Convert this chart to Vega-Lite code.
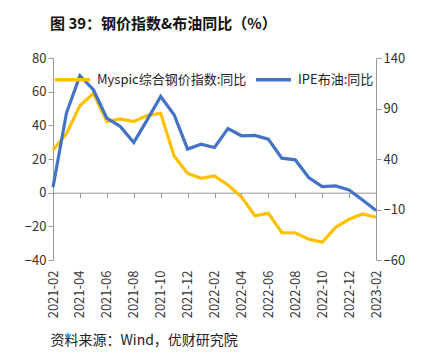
{
  "$schema": "https://vega.github.io/schema/vega-lite/v6.json",
  "width": 323,
  "height": 202,
  "autosize": {"type": "none"},
  "padding": {"left": 53, "top": 58, "right": 54, "bottom": 99},
  "background": "white",
  "config": {"view": {"stroke": null}, "font": "Noto Sans CJK SC"},
  "title": {
    "text": "图 39：钢价指数&布油同比（%）",
    "anchor": "start",
    "frame": "group",
    "fontSize": 15,
    "fontWeight": "bold",
    "color": "#111111",
    "font": "Noto Sans CJK SC",
    "offset": 20,
    "dx": -3
  },
  "data": {
    "values": [
      {"month": "2021-02", "steel": 25.4, "oil": 12},
      {"month": "2021-03", "steel": 35, "oil": 85.5},
      {"month": "2021-04", "steel": 51.6, "oil": 122.5},
      {"month": "2021-05", "steel": 59, "oil": 108.6},
      {"month": "2021-06", "steel": 42.3, "oil": 80.5},
      {"month": "2021-07", "steel": 43.8, "oil": 72.2},
      {"month": "2021-08", "steel": 42.3, "oil": 56.3},
      {"month": "2021-09", "steel": 45.8, "oil": 78.8},
      {"month": "2021-10", "steel": 47.2, "oil": 101.9},
      {"month": "2021-11", "steel": 21.8, "oil": 83.8},
      {"month": "2021-12", "steel": 11.5, "oil": 49.8},
      {"month": "2022-01", "steel": 8.5, "oil": 54.7},
      {"month": "2022-02", "steel": 10, "oil": 51.4},
      {"month": "2022-03", "steel": 4.6, "oil": 70.2},
      {"month": "2022-04", "steel": -2.4, "oil": 63},
      {"month": "2022-05", "steel": -13.7, "oil": 63.3},
      {"month": "2022-06", "steel": -12.3, "oil": 59.7},
      {"month": "2022-07", "steel": -23.8, "oil": 40.8},
      {"month": "2022-08", "steel": -23.8, "oil": 39.2},
      {"month": "2022-09", "steel": -27.6, "oil": 21.6},
      {"month": "2022-10", "steel": -29.5, "oil": 12.7},
      {"month": "2022-11", "steel": -20.6, "oil": 13.3},
      {"month": "2022-12", "steel": -15.8, "oil": 9.4},
      {"month": "2023-01", "steel": -12.7, "oil": -0.5},
      {"month": "2023-02", "steel": -14.6, "oil": -11}
    ]
  },
  "layer": [
    {
      "mark": {"type": "line", "strokeWidth": 3.2, "strokeJoin": "miter"},
      "encoding": {
        "x": {
          "field": "month",
          "type": "ordinal",
          "sort": null,
          "scale": {"type": "point", "padding": 0},
          "axis": {
            "orient": "bottom",
            "values": ["2021-02","2021-04","2021-06","2021-08","2021-10","2021-12","2022-02","2022-04","2022-06","2022-08","2022-10","2022-12","2023-02"],
            "labelAngle": -90,
            "labelPadding": 10,
            "labelFontSize": 13,
            "labelColor": "#333333",
            "domain": false,
            "ticks": false,
            "grid": false,
            "title": "资料来源：Wind，优财研究院",
            "titleFontSize": 14,
            "titleFontWeight": "normal",
            "titleColor": "#222222",
            "titleAnchor": "start",
            "titleAlign": "left",
            "titlePadding": 16,
            "titleX": -3
          }
        },
        "y": {
          "field": "steel",
          "type": "quantitative",
          "scale": {"domain": [-40, 80], "nice": false, "zero": false},
          "axis": {
            "orient": "left",
            "values": [-40, -20, 0, 20, 40, 60, 80],
            "labelFontSize": 13,
            "labelColor": "#333333",
            "domainColor": "#999999",
            "tickColor": "#999999",
            "tickSize": 5,
            "grid": false,
            "title": null
          }
        },
        "color": {
          "datum": "Myspic综合钢价指数:同比",
          "type": "nominal",
          "scale": {"domain": ["Myspic综合钢价指数:同比", "IPE布油:同比"], "range": ["#FFC000", "#4472C4"]},
          "legend": {
            "orient": "none",
            "legendX": 0,
            "legendY": 2,
            "direction": "horizontal",
            "title": null,
            "symbolType": "stroke",
            "symbolSize": 1225,
            "symbolStrokeWidth": 3.5,
            "labelFontSize": 13,
            "labelColor": "#222222",
            "labelOffset": 5,
            "columnPadding": 2
          }
        }
      }
    },
    {
      "mark": {"type": "line", "strokeWidth": 3.2, "strokeJoin": "miter"},
      "encoding": {
        "x": {
          "field": "month",
          "type": "ordinal",
          "sort": null,
          "scale": {"type": "point", "padding": 0},
          "axis": {
            "orient": "bottom",
            "offset": -67.3,
            "values": ["2021-02","2021-04","2021-06","2021-08","2021-10","2021-12","2022-02","2022-04","2022-06","2022-08","2022-10","2022-12","2023-02"],
            "labels": false,
            "domain": true,
            "domainColor": "#999999",
            "ticks": true,
            "tickColor": "#999999",
            "tickSize": 5,
            "grid": false,
            "title": null
          }
        },
        "y": {
          "field": "oil",
          "type": "quantitative",
          "scale": {"domain": [-60, 140], "nice": false, "zero": false},
          "axis": {
            "orient": "right",
            "values": [-60, -10, 40, 90, 140],
            "labelFontSize": 13,
            "labelColor": "#333333",
            "domainColor": "#999999",
            "tickColor": "#999999",
            "tickSize": 5,
            "grid": false,
            "title": null
          }
        },
        "color": {"datum": "IPE布油:同比", "type": "nominal"}
      }
    }
  ],
  "resolve": {"scale": {"y": "independent"}, "axis": {"x": "independent"}}
}
